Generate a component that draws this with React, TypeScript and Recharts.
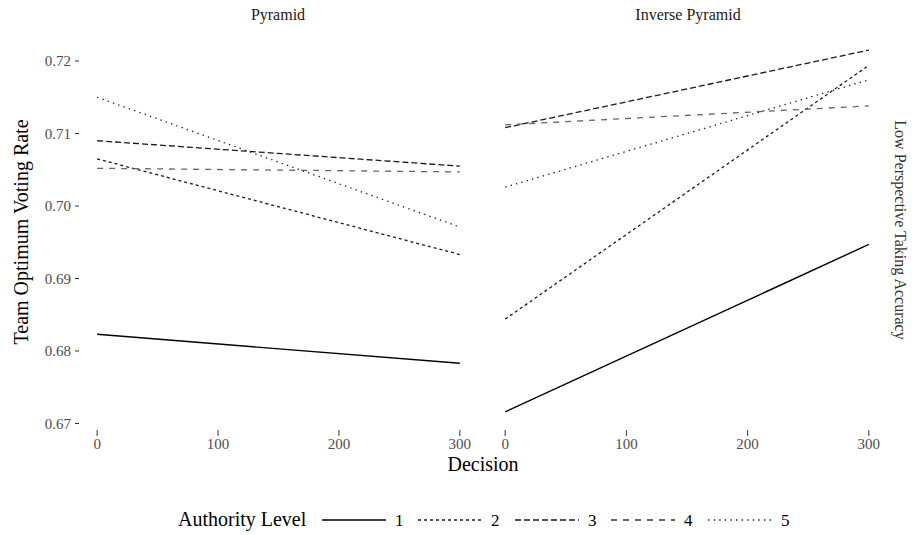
import { LineChart, Line, XAxis, YAxis } from "recharts";

// Decision points (x) shared by both panels
const decisions = [0, 300];
const xTicks = [0, 100, 200, 300];
const yTicks = [0.67, 0.68, 0.69, 0.7, 0.71, 0.72];
const authorityLevels = ["1", "2", "3", "4", "5"];

// Pyramid panel: fitted values at decision 0 and 300
const pyramidLevel1 = [0.6823, 0.6783];
const pyramidLevel2 = [0.7065, 0.6933];
const pyramidLevel3 = [0.709, 0.7055];
const pyramidLevel4 = [0.7052, 0.7047];
const pyramidLevel5 = [0.715, 0.6971];

// Inverse pyramid panel
const inverseLevel1 = [0.6716, 0.6947];
const inverseLevel2 = [0.6844, 0.7194];
const inverseLevel3 = [0.7108, 0.7215];
const inverseLevel4 = [0.7112, 0.7138];
const inverseLevel5 = [0.7026, 0.7174];

const pyramidSeries = [pyramidLevel1, pyramidLevel2, pyramidLevel3, pyramidLevel4, pyramidLevel5];
const inverseSeries = [inverseLevel1, inverseLevel2, inverseLevel3, inverseLevel4, inverseLevel5];

// ggplot-like linetypes: solid, 22, 42, 44, 13
const lineStyles = [
  { dash: undefined, color: "#000", width: 1.4 },
  { dash: "3 3", color: "#1a1a1a", width: 1.3 },
  { dash: "6 3", color: "#1a1a1a", width: 1.3 },
  { dash: "6 6", color: "#666", width: 1.3 },
  { dash: "1.4 4.2", color: "#222", width: 1.3 },
];

const FONT = "'Liberation Serif', 'DejaVu Serif', serif";
const Y_DOMAIN: [number, number] = [0.6691, 0.724];
const X_DOMAIN: [number, number] = [-15, 315];

function toRows(series: number[][]) {
  return decisions.map((d, i) => {
    const row: Record<string, number> = { decision: d };
    series.forEach((s, k) => {
      row[`l${k + 1}`] = s[i];
    });
    return row;
  });
}

const tickStyle = { fontSize: 15, fill: "#4d4d4d", fontFamily: FONT };

function Panel({ series, showY, width }: { series: number[][]; showY: boolean; width: number }) {
  return (
    <LineChart
      width={width}
      height={470}
      data={toRows(series)}
      margin={{ top: 32, right: 0, left: 0, bottom: 0 }}
    >
      <XAxis
        type="number"
        dataKey="decision"
        domain={X_DOMAIN}
        ticks={xTicks}
        allowDataOverflow
        axisLine={false}
        tickSize={6}
        tickMargin={2}
        height={40}
        stroke="#333"
        tick={tickStyle}
      />
      <YAxis
        type="number"
        domain={Y_DOMAIN}
        ticks={yTicks}
        allowDataOverflow
        hide={!showY}
        width={79}
        axisLine={false}
        tickSize={4}
        tickMargin={4}
        stroke="#333"
        tick={tickStyle}
        tickFormatter={(v: number) => v.toFixed(2)}
      />
      {authorityLevels.map((lvl, k) => (
        <Line
          key={lvl}
          type="linear"
          dataKey={`l${k + 1}`}
          stroke={lineStyles[k].color}
          strokeWidth={lineStyles[k].width}
          strokeDasharray={lineStyles[k].dash}
          dot={false}
          activeDot={false}
          isAnimationActive={false}
        />
      ))}
    </LineChart>
  );
}

export default function App() {
  const legendX = [322, 418, 515, 611, 708];
  return (
    <div
      style={{
        position: "absolute",
        left: 0,
        top: 0,
        width: 912,
        height: 535,
        background: "#fff",
        fontFamily: FONT,
      }}
    >
      <div style={{ position: "absolute", left: 0, top: 0 }}>
        <Panel series={pyramidSeries} showY width={478} />
      </div>
      <div style={{ position: "absolute", left: 487, top: 0 }}>
        <Panel series={inverseSeries} showY={false} width={400} />
      </div>
      <svg
        width={912}
        height={535}
        style={{ position: "absolute", left: 0, top: 0, pointerEvents: "none" }}
      >
        <text x={278} y={20} textAnchor="middle" fontSize={16} fontFamily={FONT} fill="#1a1a1a">
          Pyramid
        </text>
        <text x={688} y={20} textAnchor="middle" fontSize={16} fontFamily={FONT} fill="#1a1a1a">
          Inverse Pyramid
        </text>
        <text
          x={0}
          y={0}
          transform="translate(28,232) rotate(-90)"
          textAnchor="middle"
          fontSize={20}
          fontFamily={FONT}
          fill="#000"
        >
          Team Optimum Voting Rate
        </text>
        <text
          x={0}
          y={0}
          transform="translate(895,230) rotate(90)"
          textAnchor="middle"
          fontSize={16}
          fontFamily={FONT}
          fill="#333"
        >
          Low Perspective Taking Accuracy
        </text>
        <text x={483} y={471} textAnchor="middle" fontSize={20} fontFamily={FONT} fill="#000">
          Decision
        </text>
        {/* legend */}
        <text x={178} y={526} fontSize={20} fontFamily={FONT} fill="#000">
          Authority Level
        </text>
        {authorityLevels.map((lvl, k) => (
          <g key={lvl}>
            <line
              x1={legendX[k]}
              x2={legendX[k] + 64}
              y1={520}
              y2={520}
              stroke={lineStyles[k].color === "#666" ? "#333" : lineStyles[k].color}
              strokeWidth={1.3}
              strokeDasharray={lineStyles[k].dash}
            />
            <text x={legendX[k] + 73} y={526} fontSize={17} fontFamily={FONT} fill="#000">
              {lvl}
            </text>
          </g>
        ))}
      </svg>
    </div>
  );
}
